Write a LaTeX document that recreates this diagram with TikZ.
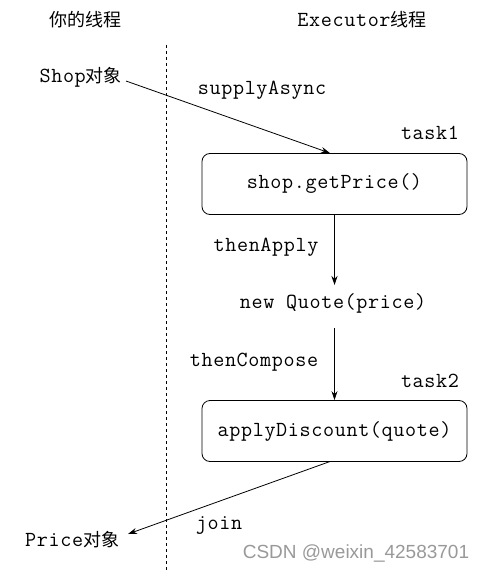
\documentclass[tikz,border=0pt]{standalone}
\usepackage{fontspec}
\newfontfamily\mono[LetterSpace=3]{Latin Modern Mono}
\newfontfamily\cjk{Noto Sans CJK SC}
\newfontfamily\wm{Liberation Sans}
\usetikzlibrary{arrows.meta}
\newcommand\cj[1]{{\cjk\fontsize{18}{20}\selectfont #1}}
\begin{document}
\begin{tikzpicture}[x=1pt,y=-1pt,
  txt/.style={inner sep=0pt,font=\mono\fontsize{21.5}{23}\selectfont},
  task/.style={draw,rounded corners=8pt,line width=0.8pt,minimum width=265pt,minimum height=61pt,inner sep=0pt,font=\mono\fontsize{21.5}{23}\selectfont},
  conn/.style={line width=0.8pt,-{Stealth[length=9pt,width=6pt]}}]
\useasboundingbox (0,0) rectangle (487,572);
\node[txt] (you) at (85,20) {\cj{你的线程}};
\node[txt] (exec) at (362,20) {Executor\cj{线程}};
\draw[dashed,line width=0.7pt] (166,45) -- (166,572);
\node[txt,anchor=east] (shop) at (122,77) {Shop\cj{对象}};
\node[task] (t1) at (334.5,184) {shop.getPrice()};
\node[txt] (t1l) at (430,133) {task1};
\node[txt] (sa) at (262,90) {supplyAsync};
\draw[conn] (shop.east) ++(4,4) coordinate (s0) -- (t1.north -| 330,0);
\node[txt] (quote) at (333,303) {new Quote(price)};
\draw[conn] (t1.south) -- (334.5,285) coordinate (q0);
\node[txt] (ta) at (266,247) {thenApply};
\node[task] (t2) at (334.5,431) {applyDiscount(quote)};
\node[txt] (t2l) at (430,381) {task2};
\node[txt] (tc) at (254,362) {thenCompose};
\coordinate (q1) at (334.5,328);
\draw[conn] (q1) -- (t2.north);
\node[txt,anchor=west] (price) at (25,540) {Price\cj{对象}};
\node[txt] (join) at (219,525) {join};
\draw[conn] (330,461.5) coordinate (j0) -- (128,534);
\node[inner sep=0pt,text=black!40,font=\wm\fontsize{19}{21}\selectfont] (wm) at (356,553) {CSDN @weixin\_42583701};
\end{tikzpicture}
\end{document}
